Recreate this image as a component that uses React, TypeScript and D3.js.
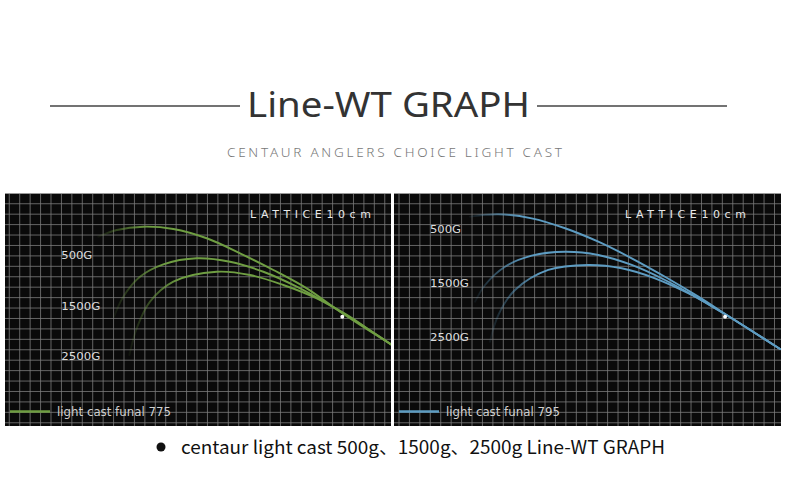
import React from "react";
import * as d3 from "d3";

// curve points in lattice cm (origin = panel top-left, 1 cell = 10cm)
const weights = ["500G", "1500G", "2500G"];

const green500 = [[89.5, 41.9], [107.1, 35.5], [132.6, 32.3], [161.4, 34.5], [193.4, 43.4], [225.3, 57.8], [257.3, 73.8], [289.3, 91.4], [321.2, 113.8], [353.1, 134.5], [370.1, 145.1]];
const green1500 = [[104.5, 118.6], [113.4, 99.4], [129.4, 80.3], [151.8, 68.4], [183.8, 62.6], [215.7, 65.9], [247.7, 75.5], [279.7, 89.8], [311.6, 107.4], [330.8, 118.6], [353.1, 133.8], [370.1, 145.1]];
const green2500 = [[119.2, 155.3], [126.3, 129.7], [139, 104.2], [161.4, 85], [203, 75.5], [234.9, 78.6], [266.8, 88.2], [298.9, 101], [324.4, 115.3], [353.1, 133.8], [370.1, 145.1]];

const blue500 = [[72.9, 22.7], [100, 20.4], [132, 24.3], [164, 33.8], [195.9, 46.7], [227.9, 62.6], [259.8, 80.3], [291.8, 99.4], [323.8, 120.1], [370.1, 149.6]];
const blue1500 = [[77.7, 104.2], [87.3, 88.2], [106.4, 70.7], [132, 60.1], [164, 56.3], [195.9, 59.4], [227.9, 69], [259.8, 83.4], [291.8, 101], [323.8, 120.1], [370.1, 149.6]];
const blue2500 = [[92, 142.6], [100, 117], [116, 93], [147.9, 73.8], [186.3, 69], [218.3, 72.2], [250.2, 81.8], [285.4, 97.8], [307.8, 110.5], [323.8, 120.1], [370.1, 149.6]];

const panels = [
  {
    id: "g",
    left: 5,
    right: 391,
    color: "#6f9e42",
    curves: [green500, green1500, green2500],
    dot: [323.4, 118.6],
    gridOffset: 4.1,
    labelX: 54,
    labelY: [62.8, 112.2, 160.5],
    latticeX: 250,
    legend: "light cast funal 775",
  },
  {
    id: "b",
    left: 394,
    right: 781,
    color: "#5d9cc2",
    curves: [blue500, blue1500, blue2500],
    dot: [317.4, 118.6],
    gridOffset: 4.8,
    labelX: 34.5,
    labelY: [38.8, 90.3, 141.8],
    latticeX: 625,
    legend: "light cast funal 795",
  },
];

const TOP = 193;
const BOTTOM = 426;
const CELL = 10.43;

const Panel = ({ p }: { p: (typeof panels)[number] }) => {
  const x = d3.scaleLinear().domain([0, 10]).range([p.left, p.left + CELL]);
  const y = d3.scaleLinear().domain([0, 10]).range([TOP, TOP + CELL]);
  const wCm = x.invert(p.right);
  const hCm = y.invert(BOTTOM);
  const vLines = d3.range(p.gridOffset, wCm, 10);
  const hLines = d3.range(0.3, hCm, 10);
  const line = d3
    .line<number[]>()
    .x((d) => x(d[0]))
    .y((d) => y(d[1]))
    .curve(d3.curveCatmullRom.alpha(0.5));

  return (
    <g>
      <defs>
        <clipPath id={`clip-${p.id}`}>
          <rect x={p.left} y={TOP} width={p.right - p.left} height={BOTTOM - TOP} />
        </clipPath>
        {p.curves.map((c, i) => (
          <linearGradient
            key={i}
            id={`grad-${p.id}-${i}`}
            gradientUnits="userSpaceOnUse"
            x1={x(c[0][0])}
            y1={0}
            x2={x(c[0][0]) + 50}
            y2={0}
          >
            <stop offset="0" stopColor={p.color} stopOpacity={0.08} />
            <stop offset="1" stopColor={p.color} stopOpacity={1} />
          </linearGradient>
        ))}
      </defs>
      <rect x={p.left} y={TOP} width={p.right - p.left} height={BOTTOM - TOP} fill="#0a0a0a" />
      <g clipPath={`url(#clip-${p.id})`}>
        {vLines.map((v) => (
          <line key={"v" + v} x1={x(v)} x2={x(v)} y1={TOP} y2={BOTTOM} stroke="#7c7c7c" strokeWidth={0.8} />
        ))}
        {hLines.map((h) => (
          <line key={"h" + h} x1={p.left} x2={p.right} y1={y(h)} y2={y(h)} stroke="#7c7c7c" strokeWidth={0.8} />
        ))}
        {p.curves.map((c, i) => (
          <path
            key={i}
            d={line(c) as string}
            fill="none"
            stroke={`url(#grad-${p.id}-${i})`}
            strokeWidth={1.9}
            strokeLinecap="round"
          />
        ))}
        <circle cx={x(p.dot[0])} cy={y(p.dot[1])} r={2} fill="#fff" />
      </g>
      <line x1={p.left} x2={p.right} y1={TOP + 0.5} y2={TOP + 0.5} stroke="#999" strokeWidth={1} />
      <text
        x={p.latticeX}
        y={TOP + 25}
        fill="#e8e8e8"
        fontFamily="DejaVu Sans"
        fontSize={11}
        textLength={121}
        lengthAdjust="spacing"
      >
        LATTICE10cm
      </text>
      {weights.map((w, i) => (
        <text
          key={w}
          x={x(p.labelX)}
          y={y(p.labelY[i])}
          fill="#dcdcdc"
          fontFamily="DejaVu Sans Condensed, DejaVu Sans"
          fontSize={11}
          textLength={w.length === 4 ? 31 : 39}
          lengthAdjust="spacingAndGlyphs"
        >
          {w}
        </text>
      ))}
      <line x1={p.left + 5} x2={p.left + 45} y1={411.5} y2={411.5} stroke={p.color} strokeWidth={2.5} />
      <text
        x={p.left + 52}
        y={415.5}
        fill="#d0d0d0"
        fontFamily="DejaVu Sans Condensed, DejaVu Sans"
        fontSize={12}
        textLength={114}
        lengthAdjust="spacingAndGlyphs"
      >
        {p.legend}
      </text>
    </g>
  );
};

export default function App() {
  return (
    <div style={{ position: "absolute", left: 0, top: 0 }}>
      <svg width={790} height={478} style={{ display: "block", background: "#fff" }}>
        <line x1={50} x2={240} y1={106} y2={106} stroke="#444" strokeWidth={1.5} />
        <line x1={537} x2={727} y1={106} y2={106} stroke="#444" strokeWidth={1.5} />
        <text
          x={247}
          y={117}
          fill="#333"
          fontFamily="Noto Sans, Open Sans, sans-serif"
          fontSize={35}
          textLength={283}
          lengthAdjust="spacingAndGlyphs"
        >
          Line-WT GRAPH
        </text>
        <text
          x={227}
          y={157}
          fill="#777"
          fontFamily="Noto Sans, Open Sans, sans-serif"
          fontSize={13.5}
          fontWeight={300}
          textLength={335}
          lengthAdjust="spacing"
        >
          CENTAUR ANGLERS CHOICE LIGHT CAST
        </text>
        {panels.map((p) => (
          <Panel key={p.id} p={p} />
        ))}
        <circle cx={161} cy={447} r={4.5} fill="#111" />
        <text
          x={181}
          y={453.5}
          fill="#111"
          fontFamily="Noto Sans CJK SC, Noto Sans, sans-serif"
          fontSize={18}
          textLength={484}
          lengthAdjust="spacingAndGlyphs"
        >
          centaur light cast 500g、1500g、2500g Line-WT GRAPH
        </text>
      </svg>
    </div>
  );
}
